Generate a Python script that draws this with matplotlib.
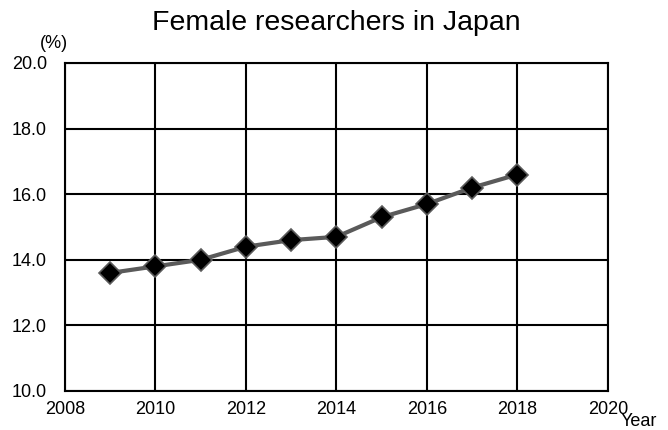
import matplotlib
matplotlib.use("Agg")
import matplotlib.pyplot as plt

plt.rcParams["font.family"] = ["Liberation Sans", "DejaVu Sans"]

years = [2009, 2010, 2011, 2012, 2013, 2014, 2015, 2016, 2017, 2018]
share = [13.6, 13.8, 14.0, 14.4, 14.6, 14.7, 15.3, 15.7, 16.2, 16.6]
x_ticks = [2008, 2010, 2012, 2014, 2016, 2018, 2020]
y_ticks = [10.0, 12.0, 14.0, 16.0, 18.0, 20.0]

fig = plt.figure(figsize=(6.68, 4.3), dpi=100)
ax = fig.add_axes([0.0973, 0.0907, 0.8127, 0.7628])

ax.plot(years, share, color="#5a5a5a", linewidth=3, marker="D",
        markersize=11, markerfacecolor="black", markeredgecolor="#5a5a5a",
        markeredgewidth=1.2, zorder=3)

ax.set_xlim(2008, 2020)
ax.set_ylim(10, 20)
ax.set_xticks(x_ticks)
ax.set_yticks(y_ticks)
ax.set_yticklabels([f"{v:.1f}" for v in y_ticks])
ax.tick_params(axis="y", length=0, labelsize=13, pad=13)
ax.tick_params(axis="x", length=0, labelsize=13, pad=7)
ax.grid(True, color="black", linewidth=1.5)
for s in ax.spines.values():
    s.set_linewidth(1.5)

ax.set_title("Female researchers in Japan", fontsize=20.5, pad=24)
fig.text(0.06, 0.9, "(%)", fontsize=13, ha="left", va="center")
fig.text(0.984, 0.0, "Year", fontsize=13, ha="right", va="bottom")

fig.savefig("out.png", dpi=100)
